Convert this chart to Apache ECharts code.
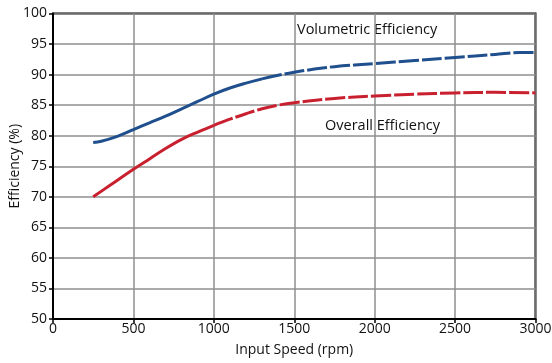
<!DOCTYPE html>
<html><head><meta charset="utf-8">
<script src="https://cdn.jsdelivr.net/npm/echarts@6/dist/echarts.min.js"></script>
<style>html,body{margin:0;padding:0;background:#fff}#c{width:552px;height:363px}</style>
</head><body><div id="c"></div>
<script>
const speedVol = [250, 300, 400, 500, 600, 700, 800, 900, 1000, 1100, 1200, 1300, 1400, 1500, 1600, 1750, 2000, 2250, 2500, 2750, 2900, 3000];
const volumetric = [78.9, 79.1, 79.9, 81.0, 82.1, 83.2, 84.4, 85.6, 86.8, 87.8, 88.6, 89.3, 89.9, 90.4, 90.8, 91.3, 91.8, 92.3, 92.8, 93.3, 93.6, 93.6];
const speedOver = [250, 350, 500, 600, 700, 800, 900, 1000, 1100, 1200, 1300, 1400, 1500, 1750, 2000, 2250, 2500, 2750, 3000];
const overall = [70.0, 71.8, 74.5, 76.2, 77.9, 79.4, 80.6, 81.7, 82.7, 83.6, 84.4, 85.0, 85.4, 86.1, 86.5, 86.8, 87.0, 87.1, 87.0];
const xTicks = [0, 500, 1000, 1500, 2000, 2500, 3000];
const yTicks = [50, 55, 60, 65, 70, 75, 80, 85, 90, 95, 100];
const seriesNames = ['Volumetric Efficiency', 'Overall Efficiency'];
const xName = 'Input Speed (rpm)';
const yName = 'Efficiency (%)';

const FONT = '"Open Sans", sans-serif';
function pairs(xs, ys, from, to) {
  const out = [];
  xs.forEach((x, i) => { if (x >= from && x <= to) out.push([x, ys[i]]); });
  return out;
}
const blue = '#1f4f8d', red = '#c9202f';
const chart = echarts.init(document.getElementById('c'), null, {renderer: 'canvas'});
const lineBase = {type: 'line', smooth: 0.4, symbol: 'none'};
chart.setOption({
  animation: false,
  backgroundColor: '#fff',
  grid: {left: 53, right: 16.5, top: 13.5, bottom: 44, show: true, borderColor: '#000', borderWidth: 2,
         containLabel: false, outerBoundsMode: 'none'},
  xAxis: {
    type: 'value', min: xTicks[0], max: xTicks[xTicks.length - 1], interval: 500,
    name: xName, nameLocation: 'middle', nameGap: 24, nameMoveOverlap: false,
    nameTextStyle: {fontFamily: FONT, fontSize: 14, color: '#111'},
    axisLine: {lineStyle: {color: '#000', width: 2}},
    axisTick: {show: true, length: 4, lineStyle: {color: '#000', width: 1.5}},
    axisLabel: {fontFamily: FONT, fontSize: 14, color: '#111', margin: 3, formatter: v => String(v)},
    splitLine: {show: true, lineStyle: {color: '#8f8f8f', width: 1.5}}
  },
  yAxis: {
    type: 'value', min: yTicks[0], max: yTicks[yTicks.length - 1], interval: 5,
    name: yName, nameLocation: 'middle', nameGap: 31, nameRotate: 90, nameMoveOverlap: false,
    nameTextStyle: {fontFamily: FONT, fontSize: 14, color: '#111'},
    axisLine: {lineStyle: {color: '#000', width: 2}},
    axisTick: {show: true, length: 4, lineStyle: {color: '#000', width: 1.5}},
    axisLabel: {fontFamily: FONT, fontSize: 14, color: '#111', margin: 6, formatter: v => String(v)},
    splitLine: {show: true, lineStyle: {color: '#8f8f8f', width: 1.5}}
  },
  series: [
    Object.assign({}, lineBase, {name: seriesNames[0], data: pairs(speedVol, volumetric, 0, 1300),
     lineStyle: {color: blue, width: 3}}),
    Object.assign({}, lineBase, {name: seriesNames[0], data: pairs(speedVol, volumetric, 1300, 3000),
     lineStyle: {color: blue, width: 3, type: [20, 3]}}),
    Object.assign({}, lineBase, {name: seriesNames[1], data: pairs(speedOver, overall, 0, 1000),
     lineStyle: {color: red, width: 3}}),
    Object.assign({}, lineBase, {name: seriesNames[1], data: pairs(speedOver, overall, 1000, 3000),
     lineStyle: {color: red, width: 3, type: [20, 3]}})
  ],
  graphic: [
    {type: 'text', x: 297, y: 30, style: {text: 'Volumetric Efficiency', font: '14.5px ' + FONT, fill: '#111', verticalAlign: 'middle'}},
    {type: 'text', x: 325, y: 126, style: {text: 'Overall Efficiency', font: '14.5px ' + FONT, fill: '#111', verticalAlign: 'middle'}}
  ]
});
</script></body></html>
